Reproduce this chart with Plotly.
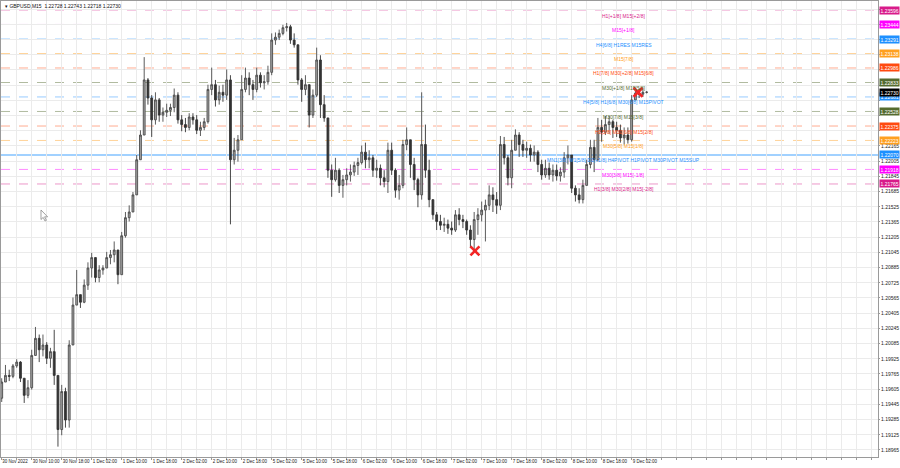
import plotly.graph_objects as go

# ---------------- data (GBPUSD, hourly aggregation) ----------------
# hour index = trading hours counted from 30 Nov 2022 00:00 (weekend removed)
hour_index = list(range(2, 175))
first_open = 1.1951
highs = [
    1.1972, 1.1986, 1.1981, 1.1987, 1.1992, 1.1990, 1.1970, 1.1970, 1.2002, 1.2026,
    1.2018, 1.2018, 1.2010, 1.2004, 1.2023, 1.1965, 1.1965, 1.1962, 1.2012, 1.2057,
    1.2086, 1.2059, 1.2076, 1.2094, 1.2104, 1.2097, 1.2091, 1.2091, 1.2105, 1.2107,
    1.2116, 1.2102, 1.2126, 1.2147, 1.2154, 1.2168, 1.2207, 1.2233, 1.2310, 1.2288,
    1.2270, 1.2273, 1.2267, 1.2257, 1.2261, 1.2261, 1.2277, 1.2273, 1.2249, 1.2246,
    1.2251, 1.2251, 1.2249, 1.2242, 1.2246, 1.2281, 1.2299, 1.2286, 1.2280, 1.2281,
    1.2297, 1.2291, 1.2225, 1.2228, 1.2291, 1.2299, 1.2294, 1.2286, 1.2299, 1.2294,
    1.2291, 1.2301, 1.2335, 1.2336, 1.2339, 1.2344, 1.2346, 1.2344, 1.2335, 1.2323,
    1.2288, 1.2291, 1.2281, 1.2276, 1.2320, 1.2312, 1.2270, 1.2246, 1.2197, 1.2204,
    1.2193, 1.2186, 1.2193, 1.2197, 1.2200, 1.2204, 1.2217, 1.2220, 1.2212, 1.2207,
    1.2202, 1.2197, 1.2191, 1.2220, 1.2220, 1.2193, 1.2186, 1.2223, 1.2236, 1.2223,
    1.2204, 1.2183, 1.2273, 1.2239, 1.2202, 1.2160, 1.2147, 1.2144, 1.2141, 1.2139,
    1.2137, 1.2149, 1.2151, 1.2144, 1.2139, 1.2133, 1.2147, 1.2151, 1.2158, 1.2160,
    1.2175, 1.2173, 1.2168, 1.2227, 1.2226, 1.2207, 1.2223, 1.2234, 1.2231, 1.2223,
    1.2221, 1.2218, 1.2217, 1.2212, 1.2202, 1.2202, 1.2199, 1.2197, 1.2197, 1.2194,
    1.2210, 1.2217, 1.2207, 1.2175, 1.2172, 1.2181, 1.2202, 1.2223, 1.2223, 1.2246,
    1.2244, 1.2248, 1.2248, 1.2244, 1.2242, 1.2239, 1.2236, 1.2236, 1.2270, 1.2278,
    1.2277, 1.2276, 1.22743,
]
lows = [
    1.1947, 1.1968, 1.1969, 1.1972, 1.1983, 1.1968, 1.1946, 1.1951, 1.1960, 1.1996,
    1.1989, 1.1995, 1.1987, 1.1983, 1.1965, 1.1900, 1.1912, 1.1920, 1.1920, 1.2007,
    1.2049, 1.2046, 1.2051, 1.2065, 1.2078, 1.2073, 1.2073, 1.2081, 1.2088, 1.2092,
    1.2094, 1.2071, 1.2086, 1.2120, 1.2137, 1.2147, 1.2165, 1.2202, 1.2228, 1.2260,
    1.2226, 1.2239, 1.2242, 1.2242, 1.2247, 1.2248, 1.2252, 1.2240, 1.2232, 1.2231,
    1.2233, 1.2239, 1.2229, 1.2227, 1.2233, 1.2240, 1.2270, 1.2258, 1.2260, 1.2263,
    1.2265, 1.2134, 1.2197, 1.2200, 1.2223, 1.2273, 1.2270, 1.2265, 1.2273, 1.2278,
    1.2276, 1.2281, 1.2291, 1.2323, 1.2328, 1.2333, 1.2337, 1.2324, 1.2320, 1.2281,
    1.2263, 1.2270, 1.2236, 1.2246, 1.2268, 1.2246, 1.2242, 1.2183, 1.2163, 1.2179,
    1.2167, 1.2162, 1.2175, 1.2179, 1.2185, 1.2186, 1.2197, 1.2193, 1.2193, 1.2184,
    1.2183, 1.2175, 1.2173, 1.2167, 1.2186, 1.2162, 1.2160, 1.2172, 1.2212, 1.2183,
    1.2170, 1.2152, 1.2160, 1.2183, 1.2152, 1.2139, 1.2128, 1.2128, 1.2126, 1.2124,
    1.2123, 1.2126, 1.2133, 1.2130, 1.2123, 1.2109, 1.2106, 1.2123, 1.2137, 1.2116,
    1.2149, 1.2147, 1.2145, 1.2149, 1.2197, 1.2175, 1.2172, 1.2212, 1.2205, 1.2205,
    1.2204, 1.2200, 1.2200, 1.2189, 1.2181, 1.2183, 1.2181, 1.2179, 1.2180, 1.2179,
    1.2183, 1.2197, 1.2167, 1.2158, 1.2156, 1.2156, 1.2175, 1.2193, 1.2189, 1.2200,
    1.2221, 1.2228, 1.2229, 1.2225, 1.2226, 1.2220, 1.2218, 1.2219, 1.2221, 1.2265,
    1.2267, 1.2268, 1.22718,
]
closes = [
    1.1968, 1.1975, 1.1974, 1.1985, 1.1989, 1.1972, 1.1954, 1.1962, 1.1996, 1.2014,
    1.2002, 1.2007, 1.1993, 1.2000, 1.1975, 1.1918, 1.1958, 1.1928, 1.2007, 1.2049,
    1.2060, 1.2052, 1.2070, 1.2088, 1.2099, 1.2078, 1.2086, 1.2088, 1.2099, 1.2102,
    1.2107, 1.2081, 1.2122, 1.2141, 1.2147, 1.2165, 1.2202, 1.2228, 1.2286, 1.2267,
    1.2244, 1.2265, 1.2249, 1.2252, 1.2254, 1.2257, 1.2270, 1.2244, 1.2239, 1.2236,
    1.2247, 1.2244, 1.2233, 1.2236, 1.2242, 1.2276, 1.2281, 1.2265, 1.2273, 1.2270,
    1.2286, 1.2202, 1.2212, 1.2223, 1.2276, 1.2288, 1.2281, 1.2276, 1.2291, 1.2283,
    1.2284, 1.2294, 1.2328, 1.2331, 1.2335, 1.2341, 1.2342, 1.2328, 1.2323, 1.2286,
    1.2276, 1.2281, 1.2249, 1.2270, 1.2307, 1.2260, 1.2246, 1.2191, 1.2181, 1.2191,
    1.2175, 1.2181, 1.2186, 1.2189, 1.2196, 1.2199, 1.2210, 1.2202, 1.2204, 1.2191,
    1.2193, 1.2183, 1.2179, 1.2212, 1.2191, 1.2170, 1.2175, 1.2218, 1.2223, 1.2197,
    1.2181, 1.2165, 1.2218, 1.2191, 1.2160, 1.2144, 1.2137, 1.2133, 1.2134, 1.2130,
    1.2128, 1.2144, 1.2139, 1.2137, 1.2128, 1.2118, 1.2139, 1.2144, 1.2149, 1.2154,
    1.2165, 1.2160, 1.2154, 1.2218, 1.2204, 1.2183, 1.2212, 1.2228, 1.2218, 1.2212,
    1.2214, 1.2207, 1.2210, 1.2197, 1.2186, 1.2193, 1.2186, 1.2191, 1.2185, 1.2189,
    1.2204, 1.2207, 1.2172, 1.2165, 1.2160, 1.2175, 1.2197, 1.2215, 1.2202, 1.2236,
    1.2231, 1.2239, 1.2242, 1.2236, 1.2233, 1.2225, 1.2228, 1.2223, 1.2265, 1.2272,
    1.2271, 1.2273, 1.22730,
]

# fractal marks (red crosses)
fractal_hours = [128.2, 171.7]
fractal_prices = [1.2106, 1.2273]

# levels drawn by the indicator
level_prices = [1.23596, 1.23444, 1.23291, 1.23138, 1.22986, 1.22833, 1.22681,
                1.22528, 1.22375, 1.22223, 1.22070, 1.21918, 1.21765]
level_texts = [
    "H1[+1/8] M15[+2/8]",
    "M15[+1/8]",
    "H4[6/8] H1RES M15RES",
    "M15[7/8]",
    "H1[7/8] M30[+2/8] M15[6/8]",
    "M30[+1/8] M15[5/8]",
    "H4[5/8] H1[6/8] M30[6/8] M15PIVOT",
    "M30[7/8] M15[3/8]",
    "H1[5/8] M30[6/8] M15[2/8]",
    "M30[5/8] M15[1/8]",
    "MN1[3/8] W1[5/8] D1[+1/8] H4PIVOT H1PIVOT M30PIVOT M15SUP",
    "M30[3/8] M15[-1/8]",
    "H1[3/8] M30[2/8] M15[-2/8]",
]
level_colors = ["#D81B8A", "#FF00FF", "#1E90FF", "#FFA020", "#FF4A10", "#556B2F", "#1E90FF",
                "#556B2F", "#FF4A10", "#FFA020", "#1E90FF", "#FF00FF", "#D81B8A"]
level_solid = [False, False, False, False, False, False, False,
               False, False, False, True, False, False]

current_price = 1.22730
title_text = "GBPUSD,M15  1.22728 1.22743 1.22718 1.22730"

price_ticks = [1.18965, 1.19125, 1.19285, 1.19445, 1.19605, 1.19765, 1.19925, 1.20085,
               1.20245, 1.20405, 1.20565, 1.20725, 1.20885, 1.21045, 1.21205, 1.21365,
               1.21525, 1.21685, 1.21845, 1.22005, 1.22165, 1.22325, 1.22485, 1.22645,
               1.22805, 1.22965, 1.23125, 1.23285, 1.23445, 1.23605]

xtick_hours = [10, 18, 26, 34, 42, 50, 58, 66, 74, 82, 90, 98, 106, 114, 122, 130,
               138, 146, 154, 162, 170]
xtick_labels = ["30 Nov 10:00", "30 Nov 18:00", "1 Dec 02:00", "1 Dec 10:00", "1 Dec 18:00",
                "2 Dec 02:00", "2 Dec 10:00", "2 Dec 18:00", "5 Dec 02:00", "5 Dec 10:00",
                "5 Dec 18:00", "6 Dec 02:00", "6 Dec 10:00", "6 Dec 18:00", "7 Dec 02:00",
                "7 Dec 10:00", "7 Dec 18:00", "8 Dec 02:00", "8 Dec 10:00", "8 Dec 18:00",
                "9 Dec 02:00"]
first_label = "30 Nov 2022"

# ---------------- figure ----------------
opens = [first_open] + closes[:-1]
hi = [max(h, o, c) for h, o, c in zip(highs, opens, closes)]
lo = [min(l, o, c) for l, o, c in zip(lows, opens, closes)]

W, H = 900, 468
ML, MR, MT, MB = 1, 22, 1, 11
X_MIN, X_MAX = 1.81, 235.7
Y_MIN, Y_MAX = 1.18891, 1.23691
FONT = "Liberation Sans"
FS = 5

fig = go.Figure()
fig.add_trace(go.Candlestick(
    x=hour_index, open=opens, high=hi, low=lo, close=closes,
    increasing=dict(line=dict(color="#4a4a4a", width=0.9), fillcolor="#a8a8a8"),
    decreasing=dict(line=dict(color="#333333", width=0.9), fillcolor="#333333"),
    whiskerwidth=0, hoverinfo="skip", showlegend=False,
))

fig.add_trace(go.Scatter(
    x=fractal_hours, y=fractal_prices, mode="markers",
    marker=dict(symbol="x-thin", size=9, line=dict(color="#F22525", width=2.6)),
    hoverinfo="skip", showlegend=False,
))

shapes = []
annotations = []
LABEL_X = 167.9
for p, t, c, s in zip(level_prices, level_texts, level_colors, level_solid):
    shapes.append(dict(
        type="line", xref="paper", x0=0, x1=1, yref="y", y0=p, y1=p,
        line=dict(color=c, width=1.6 if s else 1, dash="solid" if s else "dash"),
        opacity=0.55 if s else 0.45, layer="below",
    ))
    annotations.append(dict(
        x=LABEL_X, y=p, xref="x", yref="y", text=t, showarrow=False,
        xanchor="center", yanchor="top", yshift=-0.5,
        font=dict(family=FONT, size=FS, color=c),
    ))
    annotations.append(dict(
        x=1, y=p, xref="paper", yref="y", text=f"{p:.5f}", showarrow=False,
        xanchor="left", yanchor="middle", xshift=0.5,
        font=dict(family=FONT, size=FS, color="#ffffff"),
        bgcolor=c, borderpad=0.5,
    ))

annotations.append(dict(
    x=1, y=current_price, xref="paper", yref="y", text=f"{current_price:.5f}", showarrow=False,
    xanchor="left", yanchor="middle", xshift=0.5,
    font=dict(family=FONT, size=FS, color="#ffffff"), bgcolor="#000000", borderpad=0.5,
))
annotations.append(dict(
    x=0, y=1, xref="paper", yref="paper", text="\u25BE " + title_text, showarrow=False,
    xanchor="left", yanchor="top", xshift=2, yshift=0,
    font=dict(family=FONT, size=FS, color="#111111"),
))

# mouse-pointer glyph left on the screenshot (drawn in screen pixels -> paper coords)
def _px(xp, yp):
    return (xp - ML) / (W - ML - MR), 1 - (yp - MT) / (H - MT - MB)

cursor_pts = [(41, 210), (41, 219.5), (43.2, 217.4), (45, 221), (46.4, 220.3),
              (44.6, 216.8), (47.6, 216.8)]
path = "M " + " L ".join(f"{_px(a, b)[0]:.5f},{_px(a, b)[1]:.5f}" for a, b in cursor_pts) + " Z"
shapes.append(dict(type="path", xref="paper", yref="paper", path=path,
                   line=dict(color="#8a8a8a", width=0.8), fillcolor="#ffffff"))

grid_vals = list(range(2, 236, 4))
tickvals = [X_MIN + 0.05] + grid_vals
label_map = dict(zip(xtick_hours, xtick_labels))
ticktext = [first_label] + [label_map.get(v, "") for v in grid_vals]

# price-scale labels that sit under a coloured level box are hidden, as on the terminal
boxed = level_prices + [current_price]
price_ticktext = ["" if min(abs(v - b) for b in boxed) < 0.00055 else f"{v:.5f}"
                  for v in price_ticks]

fig.update_layout(
    width=W, height=H,
    margin=dict(l=ML, r=MR, t=MT, b=MB, autoexpand=False),
    paper_bgcolor="#ffffff", plot_bgcolor="#ffffff",
    shapes=shapes, annotations=annotations,
    font=dict(family=FONT, size=FS, color="#222222"),
    xaxis=dict(
        range=[X_MIN, X_MAX], rangeslider=dict(visible=False), automargin=False,
        tickmode="array", tickvals=tickvals, ticktext=ticktext, tickangle=0,
        ticklabelposition="outside right", ticks="outside", ticklen=2, tickcolor="#9a9a9a",
        showgrid=True, gridcolor="#ebebeb", gridwidth=1,
        zeroline=False, showline=True, linecolor="#9a9a9a", mirror=True,
        tickfont=dict(family=FONT, size=4.5, color="#222222"),
    ),
    yaxis=dict(
        range=[Y_MIN, Y_MAX], side="right", automargin=False,
        tickmode="array", tickvals=price_ticks, ticktext=price_ticktext,
        ticks="outside", ticklen=1, tickcolor="#9a9a9a",
        showgrid=True, gridcolor="#ebebeb", gridwidth=1,
        zeroline=False, showline=True, linecolor="#9a9a9a", mirror=True,
        tickfont=dict(family=FONT, size=FS, color="#222222"),
    ),
)

fig.write_html(
    "out.html",
    config={"displayModeBar": False},
    post_script="document.body.style.margin='0';document.body.style.overflow='hidden';",
)
